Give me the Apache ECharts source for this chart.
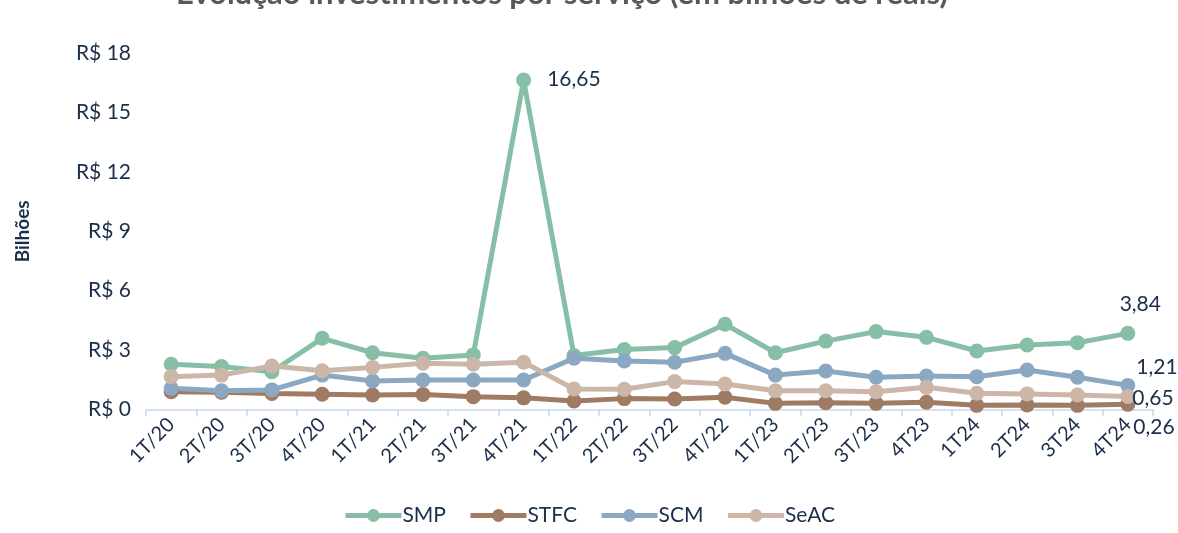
<!DOCTYPE html>
<html>
<head>
<meta charset="utf-8">
<script src="https://cdn.jsdelivr.net/npm/echarts@6/dist/echarts.min.js"></script>
<style>
    html, body { margin: 0; padding: 0; background: #fff; }
    #chart { width: 1178px; height: 533px; }
</style>
</head>
<body>
<div id="chart"></div>
<script>
    // trimestres
    const categories = [
        '1T/20', '2T/20', '3T/20', '4T/20',
        '1T/21', '2T/21', '3T/21', '4T/21',
        '1T/22', '2T/22', '3T/22', '4T/22',
        '1T/23', '2T/23', '3T/23', '4T23',
        '1T24', '2T24', '3T24', '4T24',
    ];
    const smp = [2.28, 2.16, 1.9, 3.59, 2.86, 2.58, 2.75, 16.65, 2.72, 3.02, 3.12, 4.3, 2.86, 3.45, 3.93, 3.64, 2.95, 3.25, 3.37, 3.84];
    const stfc = [0.89, 0.86, 0.8, 0.76, 0.72, 0.75, 0.64, 0.58, 0.42, 0.54, 0.52, 0.61, 0.3, 0.33, 0.3, 0.36, 0.2, 0.22, 0.2, 0.26];
    const scm = [1.06, 0.94, 0.98, 1.73, 1.43, 1.48, 1.48, 1.48, 2.58, 2.44, 2.38, 2.83, 1.73, 1.94, 1.62, 1.68, 1.65, 1.99, 1.62, 1.21];
    const seac = [1.65, 1.73, 2.19, 1.95, 2.12, 2.33, 2.28, 2.38, 1.03, 1.01, 1.4, 1.28, 0.94, 0.94, 0.89, 1.11, 0.81, 0.78, 0.72, 0.65];
    const yTicks = [0, 3, 6, 9, 12, 15, 18];

    const textColor = '#1B2F4B';
    const font = 'Lato, "Open Sans", sans-serif';

    const fmt = (v) => v.toFixed(2).replace('.', ',');

    // rótulo só nos pontos destacados
    function withLabels(values, marks) {
        return values.map((v, i) => {
            const m = marks[i];
            if (!m) return v;
            return {
                value: v,
                label: Object.assign({
                    show: true,
                    formatter: fmt(v),
                    color: textColor,
                    fontSize: 21,
                    fontFamily: font,
                    align: 'left',
                    verticalAlign: 'middle',
                }, m),
            };
        });
    }

    function line(name, color, data) {
        return {
            name: name,
            type: 'line',
            data: data,
            symbol: 'circle',
            symbolSize: 15,
            itemStyle: { color: color },
            lineStyle: { color: color, width: 5 },
            emphasis: { disabled: true },
            labelLayout: { hideOverlap: false },
            z: 2,
        };
    }

    const chart = echarts.init(document.getElementById('chart'));
    chart.setOption({
        animation: false,
        title: {
            text: 'Evolução investimentos por serviço (em bilhões de reais)',
            left: 557,
            textAlign: 'center',
            top: -27,
            textStyle: { color: '#595959', fontSize: 31, fontWeight: 'bold', fontFamily: font },
        },
        grid: { left: 146, right: 25, top: 53.4, bottom: 123.7 },
        legend: {
            bottom: 2,
            left: 'center',
            itemWidth: 56,
            itemHeight: 16,
            itemGap: 22,
            lineStyle: { width: 5 },
            textStyle: { color: textColor, fontSize: 21, fontFamily: font, padding: [0, 0, 0, -4] },
            data: ['SMP', 'STFC', 'SCM', 'SeAC'],
        },
        xAxis: {
            type: 'category',
            data: categories,
            boundaryGap: true,
            axisLine: { lineStyle: { color: '#C5D9F1', width: 1.5 } },
            axisTick: { show: true, length: 7, lineStyle: { color: '#C5D9F1', width: 1.5 } },
            axisLabel: {
                interval: 0,
                rotate: 45,
                margin: 12,
                color: textColor,
                fontSize: 20,
                fontFamily: font,
            },
        },
        yAxis: {
            type: 'value',
            min: yTicks[0],
            max: yTicks[yTicks.length - 1],
            interval: 3,
            name: 'Bilhões',
            nameLocation: 'middle',
            nameGap: 114,
            nameRotate: 90,
            nameTextStyle: { color: textColor, fontSize: 19, fontWeight: 'bold', fontFamily: font },
            axisLine: { show: false },
            axisTick: { show: false },
            splitLine: { show: false },
            axisLabel: {
                color: textColor,
                fontSize: 21,
                fontFamily: font,
                margin: 15,
                formatter: (v) => 'R$ ' + v,
            },
        },
        series: [
            line('SMP', '#86BFA5', withLabels(smp, {
                7: { position: [31, 7] },
                19: { position: [20, -22], align: 'center' },
            })),
            line('STFC', '#9E7B62', withLabels(stfc, {
                19: { position: [13, 31] },
            })),
            line('SCM', '#8AA8C2', withLabels(scm, {
                19: { position: [16, -11] },
            })),
            line('SeAC', '#CCB6A8', withLabels(seac, {
                19: { position: [12, 9] },
            })),
        ],
    });
</script>
</body>
</html>
